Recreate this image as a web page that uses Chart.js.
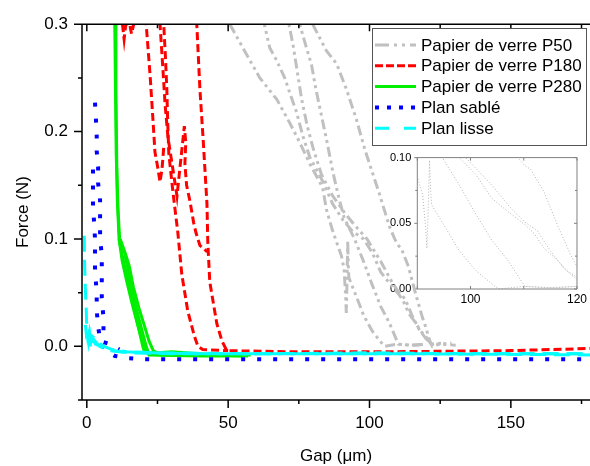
<!DOCTYPE html>
<html lang="fr">
<head>
<meta charset="UTF-8">
<title>Force - Gap</title>
<script src="https://cdn.jsdelivr.net/npm/chart.js"></script>
<style>
  body { margin: 0; background: #fff; }
  #wrap { position: relative; width: 590px; height: 466px; }
  #inset { position: absolute; left: 370px; top: 145px; }
  #main { position: absolute; left: 0; top: 0; }
</style>
</head>
<body>
<div id="wrap">
  <canvas id="inset" width="220" height="170"></canvas>
  <canvas id="main" width="590" height="466"></canvas>
</div>
<script>
// ---- tick labels ----
const xTicks = [0, 50, 100, 150];
const yTicks = [0, 0.1, 0.2, 0.3];
const insetXTicks = [100, 120];
const insetYTicks = [0, 0.05, 0.1];

// ---- Papier de verre P50 (gap µm, force N) ----
const p50a = [[50.6,0.3],[55.2,0.278],[61.2,0.25],[67.2,0.23],[71.8,0.208],[75.3,0.19],[78.9,0.17],[83.4,0.148],[84.8,0.127],[86.9,0.108],[90.1,0.084],[91,0.072],[91.6,0.045],[91.8,0.031],[92.0,0.055],[92.3,0.098],[92.5,0.075],[92.7,0.064],[95.4,0.046],[97.9,0.029],[101,0.014],[104,0.004],[105.3,0.0],[110,0.002],[116,0.001],[120,0.002]];
const p50b = [[62.8,0.3],[64.7,0.278],[67.2,0.266],[70,0.25],[71.8,0.236],[74.2,0.218],[76.4,0.196],[78.9,0.176],[83.4,0.154],[86.9,0.133],[90.5,0.118],[94,0.107],[97.9,0.1],[101,0.087],[104,0.069],[107,0.059],[110.2,0.049],[112,0.042],[113.8,0.031],[116.3,0.022],[118.1,0.014],[120,0.009],[121.5,0.003],[124,0.002],[129,0.003]];
const p50c = [[75.3,0.3],[77.7,0.278],[79.5,0.262],[81,0.24],[83,0.215],[85,0.19],[87,0.163],[89,0.14],[91,0.12],[94.7,0.1],[97.9,0.079],[101,0.057],[104,0.037],[107,0.022],[110.2,0.002],[114,0.001],[120,0.002]];
const p50d = [[71.5,0.3],[73,0.28],[74.5,0.255],[76,0.23],[78,0.205],[80,0.185],[83,0.16],[87,0.14],[91,0.125],[95,0.112],[99.1,0.1],[104,0.079],[107.7,0.061],[110.2,0.051],[112.6,0.044],[115,0.029],[117.5,0.016],[120,0.007],[122,0.002],[126,0.003]];
const p50e = [[79.9,0.3],[84.8,0.275],[88.4,0.263],[91.9,0.239],[95.4,0.211],[98.5,0.182],[103.5,0.142],[107,0.112],[108.9,0.1],[110.2,0.094],[111.3,0.091],[113.8,0.074],[116.3,0.049],[118.7,0.027],[120,0.017],[121.2,0.006],[122.2,0.0],[125,0.002],[130.5,0.001]];

// ---- Papier de verre P180 ----
const p180a = [[12.6,0.3],[13.2,0.286],[13.8,0.3],[15.2,0.3],[15.8,0.291],[16.6,0.3]];
const p180b = [[21,0.3],[22.4,0.252],[23.4,0.211],[24.1,0.181],[25.2,0.165],[25.9,0.153],[26.6,0.165],[27.2,0.185]];
const p180c = [[25.9,0.3],[27,0.255],[27.7,0.225],[28.7,0.195],[30.5,0.164],[31.9,0.14],[32.5,0.155],[33.5,0.18],[34.5,0.205],[35,0.19],[34.7,0.17],[35.3,0.15],[36.5,0.135],[37.8,0.115],[38.6,0.106],[40,0.094],[42.6,0.088]];
const p180d = [[27.2,0.3],[27.8,0.27],[28.3,0.24],[28.6,0.21],[29,0.18],[29.8,0.16],[30.5,0.143],[32.2,0.106],[33.6,0.067],[35.7,0.033],[38,0.01],[39.3,0.0],[41,-0.003],[50,-0.004]];
const p180e = [[38.9,0.3],[40,0.24],[41.1,0.195],[42.5,0.133],[42.8,0.097],[43.5,0.06],[46,0.021],[47.8,0.005],[49.5,-0.004],[70,-0.005],[110,-0.005],[150,-0.004],[178,-0.002]];

// ---- Papier de verre P280 ----
const p280a = [[9.9,0.3],[10.1,0.25],[10.4,0.18],[10.8,0.136],[11.4,0.1],[12.5,0.085],[14,0.068],[15.5,0.05],[17,0.032],[18.5,0.015],[19.8,0.0],[20.5,-0.006],[25,-0.006],[30,-0.005],[35,-0.006],[45,-0.008],[58,-0.008]];
const p280b = [[10.1,0.3],[10.3,0.24],[10.6,0.17],[11,0.13],[11.6,0.1],[13.3,0.088],[14.3,0.075],[15.8,0.055],[17.5,0.035],[19.5,0.015],[21,0.0],[22,-0.007],[35,-0.007],[50,-0.008]];
const p280c = [[11.4,0.1],[12.5,0.08],[14,0.062],[16,0.04],[18,0.02],[19.5,0.006],[20.5,-0.002],[22,-0.008],[40,-0.009],[55,-0.009]];
const p280d = [[11.8,0.1],[13.8,0.085],[15,0.075],[16.5,0.055],[18.5,0.035],[20.5,0.018],[22,0.005],[23.5,-0.004],[26,-0.008],[45,-0.008],[57,-0.009]];

// ---- Plan sablé ----
const sableA = [[2.9,0.227],[3.2,0.213],[3.5,0.197],[3.5,0.182],[4,0.167],[4,0.152],[4.7,0.136],[4.7,0.121],[4.7,0.109],[4.7,0.1],[5.3,0.085],[5.3,0.063],[5.3,0.045],[5.9,0.026],[5.9,0.012],[5.9,0.004],[8.2,0.002],[10,-0.001],[11.5,-0.003]];
const sableB = [[2.2,0.173],[2.2,0.158],[2.2,0.143],[2.2,0.129],[2.6,0.115],[2.9,0.1],[2.9,0.085],[2.9,0.069],[3.5,0.051],[3.5,0.033],[4.1,0.017],[4.7,0.005],[6,-0.002],[8,-0.006],[10,-0.009],[14.7,-0.011],[20,-0.012],[60,-0.012],[120,-0.012],[178,-0.012]];

// ---- Plan lisse ----
const lisseA = [[-0.9,0.103],[-0.8,0.08],[-0.6,0.06],[-0.4,0.045],[-0.2,0.035],[0,0.015],[0.3,0.008],[0.8,0.013],[1.2,0.0],[1.6,0.01],[2.5,0.008],[4,0.004],[6,0.0],[9,-0.003],[14,-0.005],[20,-0.006],[40,-0.007],[80,-0.007],[120,-0.007],[178,-0.008]];
const lisseB = [[-0.5,0.02],[-0.2,0.012],[0.2,0.015],[0.6,0.005],[1.0,0.012],[1.5,0.003],[2.5,0.006],[4.5,0.0],[7,-0.003],[12,-0.005],[25,-0.006],[60,-0.007],[100,-0.006],[140,-0.007],[178,-0.007]];
const lisseC = [[0.2,0.01],[1,0.005],[2,0.008],[3,0.002],[5,0.0],[8,-0.004],[15,-0.006],[30,-0.007],[70,-0.007],[110,-0.007],[150,-0.007],[178,-0.007]];

const groups = [
  { label: 'Papier de verre P50',  curves: [p50a, p50b, p50c, p50d, p50e], color: '#c0c0c0', width: 3, dash: [10,4,3,4,3,4], legendDash: [14,5,3,5,3,5], order: 5 },
  { label: 'Papier de verre P180', curves: [p180a, p180b, p180c, p180d, p180e], color: '#ff0000', width: 3, dash: [8,4], legendDash: [8,3], order: 4 },
  { label: 'Papier de verre P280', curves: [p280a, p280b, p280c, p280d], color: '#00ee00', width: 3, dash: [], legendDash: [], order: 3 },
  { label: 'Plan sablé',           curves: [sableA, sableB], color: '#0000ff', width: 4, dash: [4,12], legendDash: [4,8], order: 2 },
  { label: 'Plan lisse',           curves: [lisseA, lisseB, lisseC], color: '#00ffff', width: 3, dash: [16,8], legendDash: [14,15], order: 1 }
];

Chart.defaults.font.family = "Arial, 'Liberation Sans', sans-serif";
Chart.defaults.color = '#000';

const mainSets = [];
groups.forEach(g => {
  g.curves.forEach((c, i) => {
    mainSets.push({
      label: g.label,
      data: c.map(p => ({ x: p[0], y: p[1] })),
      borderColor: g.color,
      borderWidth: g.width,
      borderDash: g.dash,
      borderDashOffset: i * 7,
      pointRadius: 0,
      tension: 0,
      fill: false,
      order: g.order
    });
  });
});

const insetSets = groups[0].curves.map(c => ({
  data: c.map(p => ({ x: p[0], y: p[1] })),
  borderColor: '#b4b4b4',
  borderWidth: 1,
  borderDash: [1, 2],
  pointRadius: 0,
  tension: 0,
  fill: false
}));

function isMultiple(v, step) {
  const r = v / step;
  return Math.abs(r - Math.round(r)) < 1e-6;
}

// axes + petites graduations
function makeFrame(cfg) {
  return {
    id: 'frame',
    afterDraw(chart) {
      const { ctx, chartArea: a } = chart;
      const x = chart.scales.x, y = chart.scales.y;
      ctx.save();
      ctx.strokeStyle = cfg.color;
      ctx.lineWidth = cfg.lineWidth;
      ctx.beginPath();
      ctx.moveTo(a.left, a.top); ctx.lineTo(a.left, a.bottom);
      ctx.moveTo(a.left - cfg.bottomExtra, a.bottom); ctx.lineTo(a.right, a.bottom);
      ctx.moveTo(a.left, a.top); ctx.lineTo(a.right, a.top);
      if (cfg.rightSide) { ctx.moveTo(a.right, a.top); ctx.lineTo(a.right, a.bottom); }
      cfg.xMinor.forEach(v => {
        const px = x.getPixelForValue(v);
        const major = isMultiple(v, cfg.xMajorStep);
        const lb = major ? cfg.tickMajor : cfg.tickMinor;
        ctx.moveTo(px, a.bottom); ctx.lineTo(px, a.bottom + cfg.bottomDir * lb);
        ctx.moveTo(px, a.top); ctx.lineTo(px, a.top + (major ? cfg.topMajor : cfg.topMinor));
      });
      cfg.yMinor.forEach(v => {
        const py = y.getPixelForValue(v);
        const major = isMultiple(v, cfg.yMajorStep);
        const lb = major ? cfg.tickMajor : cfg.tickMinor;
        ctx.moveTo(a.left, py); ctx.lineTo(a.left - lb, py);
        if (cfg.rightSide) { ctx.moveTo(a.right, py); ctx.lineTo(a.right - (major ? cfg.topMajor : cfg.topMinor), py); }
      });
      ctx.stroke();
      ctx.restore();
    }
  };
}

// légende encadrée dans le coin haut droit
const legendBox = {
  id: 'legendBox',
  afterDraw(chart) {
    const ctx = chart.ctx;
    ctx.save();
    ctx.fillStyle = '#fff';
    ctx.fillRect(372, 28, 215, 118);
    ctx.strokeStyle = '#555';
    ctx.lineWidth = 1;
    ctx.strokeRect(372.5, 28.5, 214, 117);
    ctx.font = "17px Arial, 'Liberation Sans', sans-serif";
    ctx.textBaseline = 'middle';
    groups.forEach((g, i) => {
      const ly = 45 + i * 20.8;
      ctx.beginPath();
      ctx.setLineDash(g.legendDash);
      ctx.strokeStyle = g.color;
      ctx.lineWidth = g.width;
      ctx.moveTo(375, ly); ctx.lineTo(416, ly);
      ctx.stroke();
      ctx.setLineDash([]);
      ctx.fillStyle = '#000';
      ctx.fillText(g.label, 421, ly + 1);
    });
    ctx.restore();
  }
};

new Chart(document.getElementById('main'), {
  type: 'line',
  data: { datasets: mainSets },
  options: {
    responsive: false,
    animation: false,
    layout: { padding: { top: 18, right: 0, left: 0, bottom: 0 } },
    plugins: { legend: { display: false }, tooltip: { enabled: false } },
    scales: {
      x: {
        type: 'linear', min: -1.7, max: 178,
        afterBuildTicks: s => { s.ticks = xTicks.map(v => ({ value: v })); },
        afterFit: s => { s.height = 66; },
        grid: { display: false, drawTicks: false },
        border: { display: false },
        ticks: { padding: 13, font: { size: 17 }, maxRotation: 0, autoSkip: false },
        title: { display: true, text: 'Gap (μm)', font: { size: 17, lineHeight: 1 }, padding: { top: 0, bottom: 1 } }
      },
      y: {
        type: 'linear', min: -0.05, max: 0.3,
        afterBuildTicks: s => { s.ticks = yTicks.map(v => ({ value: v })); },
        afterFit: s => { s.width = 82; },
        grid: { display: false, drawTicks: false },
        border: { display: false },
        ticks: { padding: 14, font: { size: 17 }, callback: v => v.toFixed(1) },
        title: { display: true, text: 'Force (N)', font: { size: 17, lineHeight: 1 }, padding: { top: 15, bottom: 0 } }
      }
    }
  },
  plugins: [makeFrame({
    color: '#000', lineWidth: 1.5, bottomExtra: 4, rightSide: false,
    xMinor: [0, 25, 50, 75, 100, 125, 150, 175], xMajorStep: 50,
    yMinor: [-0.05, 0, 0.05, 0.1, 0.15, 0.2, 0.25, 0.3], yMajorStep: 0.1,
    tickMajor: 8, tickMinor: 4, bottomDir: 1, topMajor: 7, topMinor: 4
  }), legendBox]
});

// encart : zoom sur P50
new Chart(document.getElementById('inset'), {
  type: 'line',
  data: { datasets: insetSets },
  options: {
    responsive: false,
    animation: false,
    layout: { padding: { top: 10, right: 10, left: 0, bottom: 0 } },
    plugins: { legend: { display: false }, tooltip: { enabled: false } },
    scales: {
      x: {
        type: 'linear', min: 90, max: 120,
        afterBuildTicks: s => { s.ticks = insetXTicks.map(v => ({ value: v })); },
        afterFit: s => { s.height = 26; },
        grid: { display: false, drawTicks: false },
        border: { display: false },
        ticks: { padding: 3, font: { size: 12 }, maxRotation: 0, autoSkip: false }
      },
      y: {
        type: 'linear', min: 0, max: 0.1,
        afterBuildTicks: s => { s.ticks = insetYTicks.map(v => ({ value: v })); },
        afterFit: s => { s.width = 47.3; },
        grid: { display: false, drawTicks: false },
        border: { display: false },
        ticks: { padding: 6, font: { size: 11 }, callback: v => v.toFixed(2) }
      }
    }
  },
  plugins: [makeFrame({
    color: '#808080', lineWidth: 1, bottomExtra: 0, rightSide: true,
    xMinor: [90, 100, 110, 120], xMajorStep: 10,
    yMinor: [0, 0.025, 0.05, 0.075, 0.1], yMajorStep: 0.05,
    tickMajor: 3, tickMinor: 2, bottomDir: -1, topMajor: 3, topMinor: 2
  })]
});
</script>
</body>
</html>
